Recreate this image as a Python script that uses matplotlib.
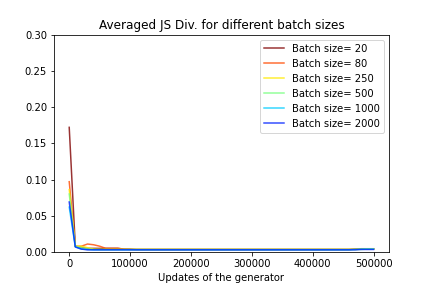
import numpy as np
import matplotlib
matplotlib.use("Agg")
import matplotlib.pyplot as plt

updates = np.arange(0, 500001, 10000)

batch_sizes = [20, 80, 250, 500, 1000, 2000]

js_bs20 = [0.172, 0.008, 0.006, 0.005, 0.005, 0.005, 0.005, 0.005, 0.005, 0.004,
           0.004, 0.0035, 0.0035, 0.0035, 0.0035, 0.0035, 0.0035, 0.0035, 0.0035, 0.0035,
           0.0035, 0.0035, 0.0035, 0.0035, 0.0035, 0.0035, 0.0035, 0.0035, 0.0035, 0.0035,
           0.0035, 0.0035, 0.0035, 0.0035, 0.0035, 0.0035, 0.0035, 0.0035, 0.0035, 0.0035,
           0.0035, 0.0035, 0.0035, 0.0035, 0.0035, 0.0035, 0.0035, 0.004, 0.0045, 0.0045,
           0.0045]
js_bs80 = [0.097, 0.008, 0.008, 0.011, 0.010, 0.008, 0.005, 0.005, 0.005, 0.004,
           0.0035, 0.0035, 0.0035, 0.0035, 0.0035, 0.0035, 0.0035, 0.0035, 0.0035, 0.0035,
           0.0035, 0.0035, 0.0035, 0.0035, 0.0035, 0.0035, 0.0035, 0.0035, 0.0035, 0.0035,
           0.0035, 0.0035, 0.0035, 0.0035, 0.0035, 0.0035, 0.0035, 0.0035, 0.0035, 0.0035,
           0.0035, 0.0035, 0.0035, 0.0035, 0.0035, 0.0035, 0.0035, 0.004, 0.0045, 0.0045,
           0.0045]
js_bs250 = [0.086, 0.008, 0.008, 0.006, 0.004, 0.0035, 0.0035, 0.0035, 0.0035, 0.0035,
            0.0035, 0.0035, 0.0035, 0.0035, 0.0035, 0.0035, 0.0035, 0.0035, 0.0035, 0.0035,
            0.0035, 0.0035, 0.0035, 0.0035, 0.0035, 0.0035, 0.0035, 0.0035, 0.0035, 0.0035,
            0.0035, 0.0035, 0.0035, 0.0035, 0.0035, 0.0035, 0.0035, 0.0035, 0.0035, 0.0035,
            0.0035, 0.0035, 0.0035, 0.0035, 0.0035, 0.0035, 0.0035, 0.0035, 0.004, 0.004,
            0.004]
js_bs500 = [0.080, 0.008, 0.006, 0.004, 0.0035, 0.0035, 0.0035, 0.0035, 0.0035, 0.0035,
            0.0035, 0.0035, 0.0035, 0.0035, 0.0035, 0.0035, 0.0035, 0.0035, 0.0035, 0.0035,
            0.0035, 0.0035, 0.0035, 0.0035, 0.0035, 0.0035, 0.0035, 0.0035, 0.0035, 0.0035,
            0.0035, 0.0035, 0.0035, 0.0035, 0.0035, 0.0035, 0.0035, 0.0035, 0.0035, 0.0035,
            0.0035, 0.0035, 0.0035, 0.0035, 0.0035, 0.0035, 0.0035, 0.0035, 0.0035, 0.004,
            0.004]
js_bs1000 = [0.062, 0.007, 0.004, 0.0035, 0.003, 0.003, 0.003, 0.003, 0.003, 0.003,
             0.003, 0.003, 0.003, 0.003, 0.003, 0.003, 0.003, 0.003, 0.003, 0.003,
             0.003, 0.003, 0.003, 0.003, 0.003, 0.003, 0.003, 0.003, 0.003, 0.003,
             0.003, 0.003, 0.003, 0.003, 0.003, 0.003, 0.003, 0.003, 0.003, 0.003,
             0.003, 0.003, 0.003, 0.003, 0.003, 0.003, 0.003, 0.0035, 0.004, 0.004,
             0.004]
js_bs2000 = [0.069, 0.007, 0.004, 0.003, 0.003, 0.003, 0.003, 0.003, 0.003, 0.003,
             0.003, 0.003, 0.003, 0.003, 0.003, 0.003, 0.003, 0.003, 0.003, 0.003,
             0.003, 0.003, 0.003, 0.003, 0.003, 0.003, 0.003, 0.003, 0.003, 0.003,
             0.003, 0.003, 0.003, 0.003, 0.003, 0.003, 0.003, 0.003, 0.003, 0.003,
             0.003, 0.003, 0.003, 0.003, 0.003, 0.003, 0.003, 0.003, 0.0035, 0.0035,
             0.0035]

series = [js_bs20, js_bs80, js_bs250, js_bs500, js_bs1000, js_bs2000]
colors = plt.cm.jet(np.linspace(1, 0.16, len(batch_sizes)))

fig, ax = plt.subplots(figsize=(6, 4), dpi=72)
fig.subplots_adjust(bottom=0.125)
for bs, vals, c in zip(batch_sizes, series, colors):
    ax.plot(updates, vals, color=c, alpha=0.8, label="Batch size= %d" % bs)

ax.set_ylim(0, 0.3)
ax.set_title("Averaged JS Div. for different batch sizes")
ax.set_xlabel("Updates of the generator")
ax.legend(loc="upper right")
fig.savefig("out.png", dpi=72)
